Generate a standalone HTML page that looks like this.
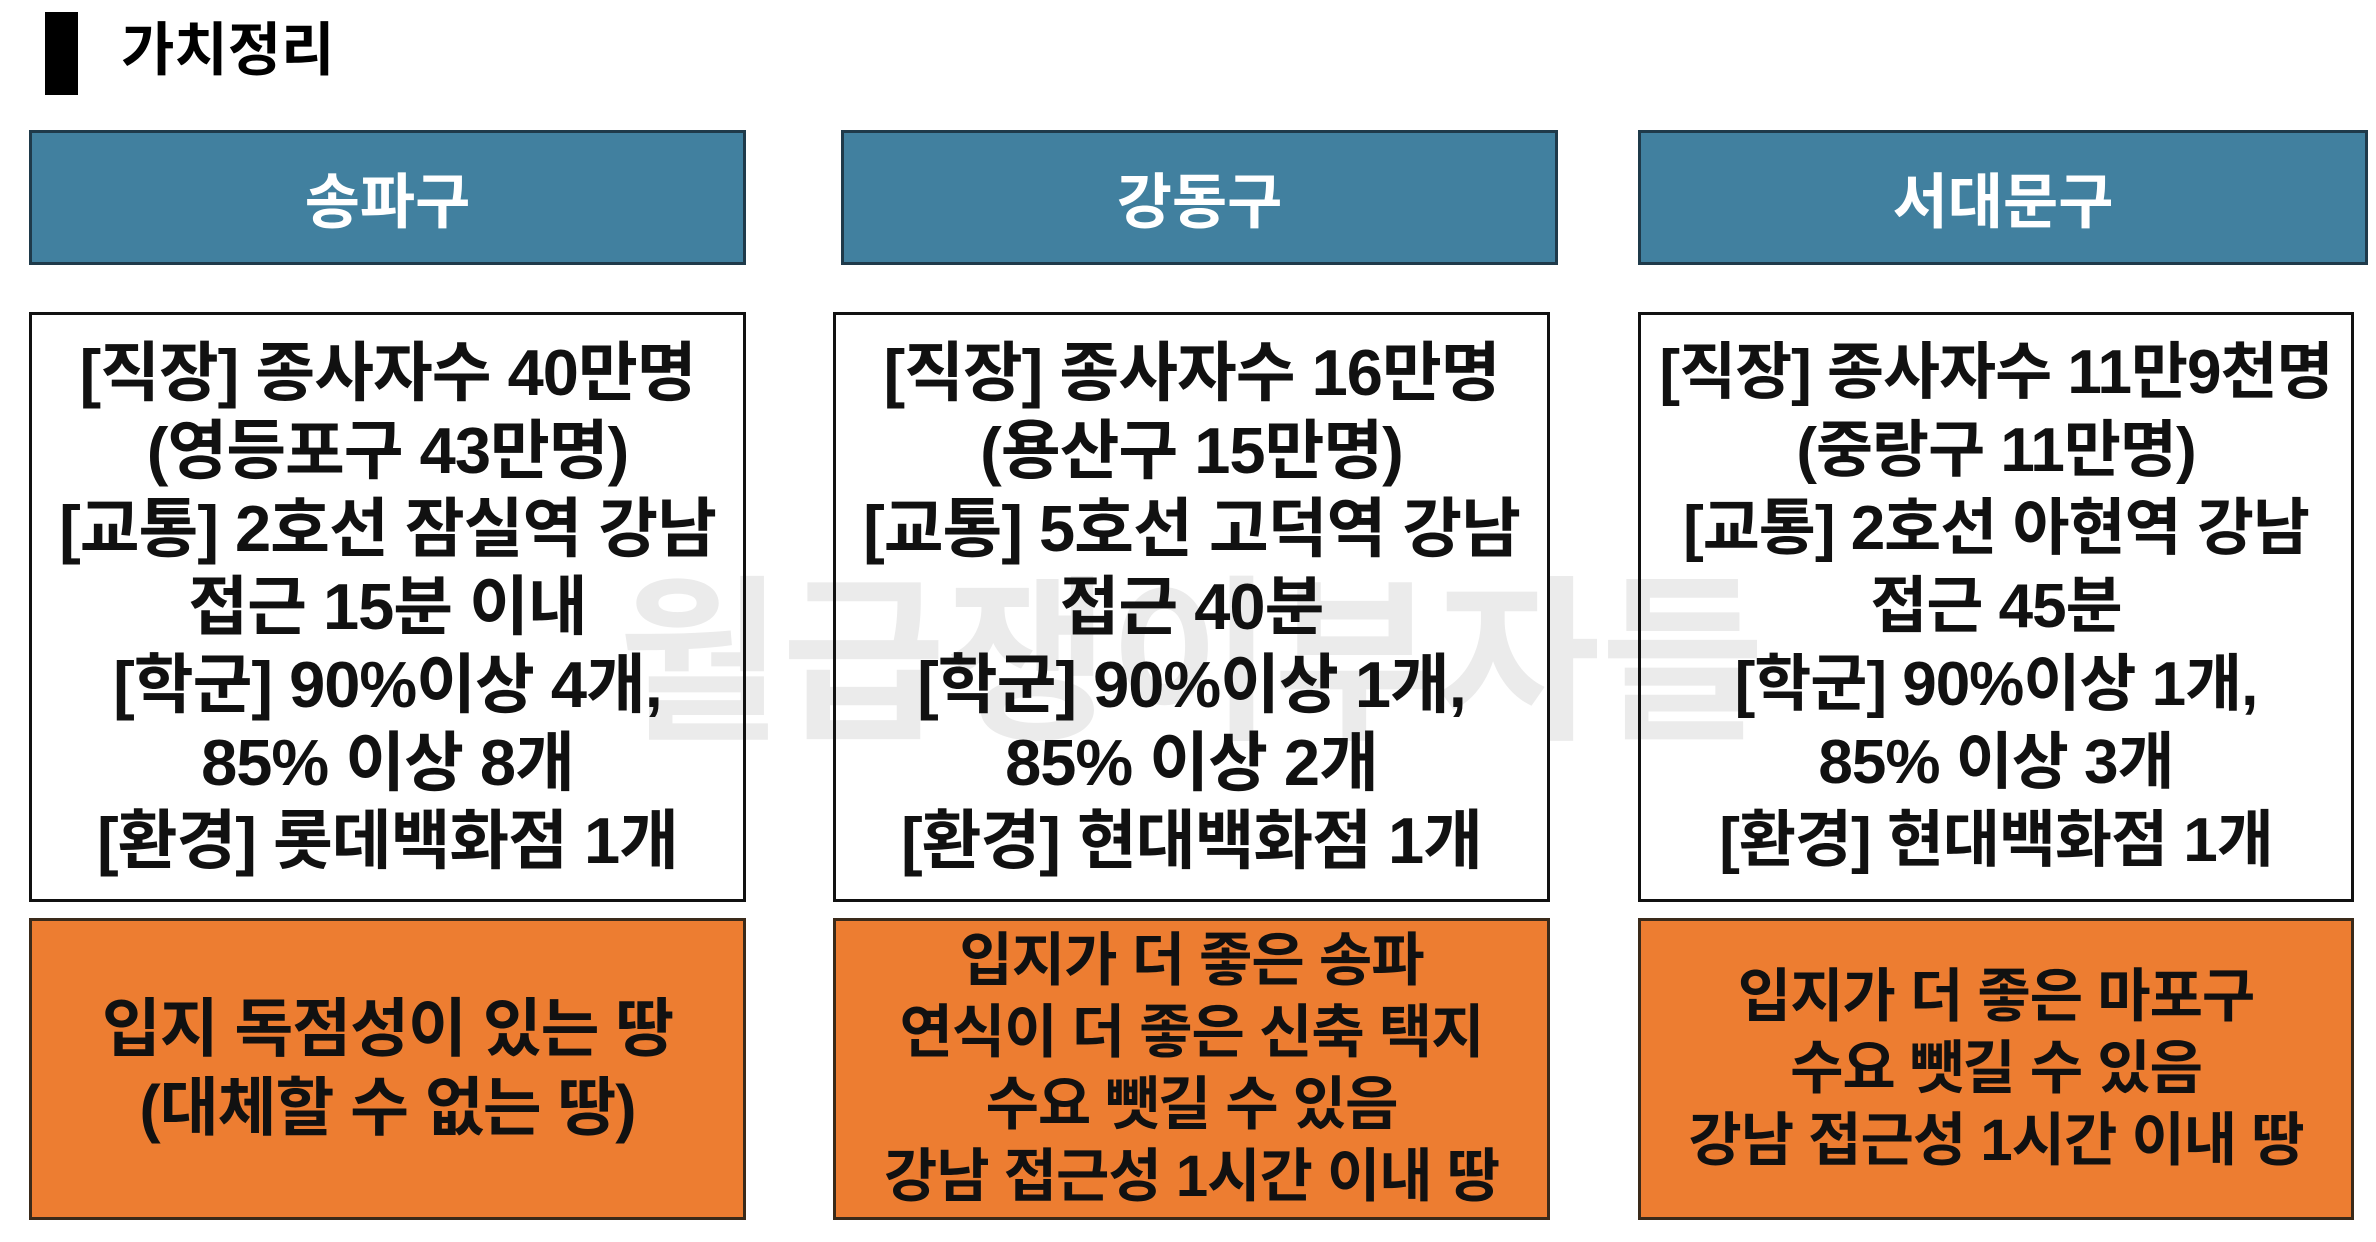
<!DOCTYPE html>
<html><head><meta charset="utf-8">
<style>
html,body{margin:0;padding:0;background:#fff;}
body{width:2376px;height:1242px;position:relative;overflow:hidden;font-family:"Liberation Sans","Noto Sans CJK KR",sans-serif;}
.abs{position:absolute;box-sizing:border-box;}
.hdr{background:#41809f;border:3px solid #1f3a4a;color:#fff;font-weight:bold;font-size:60px;display:flex;align-items:center;justify-content:center;}
.wbox{border:3px solid #111;background:transparent;display:flex;flex-direction:column;align-items:center;justify-content:center;font-weight:bold;font-size:62px;line-height:78px;color:#111;text-align:center;white-space:nowrap;letter-spacing:-1px;}
.obox{background:#ed7d31;border:3px solid #3a2a1a;display:flex;flex-direction:column;align-items:center;justify-content:center;font-weight:bold;font-size:58px;color:#111;text-align:center;white-space:nowrap;letter-spacing:-1px;}
.wm{font-size:178px;font-weight:bold;color:#ebebeb;white-space:nowrap;}
</style></head><body>
<div class="abs wm" style="left:618px;top:520px;">월급쟁이부자들</div>
<div class="abs" style="left:45px;top:12px;width:33px;height:83px;background:#000;"></div>
<div class="abs" style="left:121px;top:16px;font-size:58px;font-weight:bold;line-height:70px;">가치정리</div>

<div class="abs hdr" style="left:29px;top:130px;width:717px;height:135px;">송파구</div>
<div class="abs hdr" style="left:841px;top:130px;width:717px;height:135px;">강동구</div>
<div class="abs hdr" style="left:1638px;top:130px;width:730px;height:135px;">서대문구</div>

<div class="abs wbox" style="left:29px;top:312px;width:717px;height:590px;font-size:65px;">
<div>[직장] 종사자수 40만명</div><div>(영등포구 43만명)</div><div>[교통] 2호선 잠실역 강남</div><div>접근 15분 이내</div><div>[학군] 90%이상 4개,</div><div>85% 이상 8개</div><div>[환경] 롯데백화점 1개</div></div>
<div class="abs wbox" style="left:833px;top:312px;width:717px;height:590px;font-size:65px;">
<div>[직장] 종사자수 16만명</div><div>(용산구 15만명)</div><div>[교통] 5호선 고덕역 강남</div><div>접근 40분</div><div>[학군] 90%이상 1개,</div><div>85% 이상 2개</div><div>[환경] 현대백화점 1개</div></div>
<div class="abs wbox" style="left:1638px;top:312px;width:716px;height:590px;">
<div>[직장] 종사자수 11만9천명</div><div>(중랑구 11만명)</div><div>[교통] 2호선 아현역 강남</div><div>접근 45분</div><div>[학군] 90%이상 1개,</div><div>85% 이상 3개</div><div>[환경] 현대백화점 1개</div></div>

<div class="abs obox" style="left:29px;top:918px;width:717px;height:302px;line-height:79px;font-size:64px;">
<div>입지 독점성이 있는 땅</div><div>(대체할 수 없는 땅)</div></div>
<div class="abs obox" style="left:833px;top:918px;width:717px;height:302px;line-height:72px;">
<div>입지가 더 좋은 송파</div><div>연식이 더 좋은 신축 택지</div><div>수요 뺏길 수 있음</div><div>강남 접근성 1시간 이내 땅</div></div>
<div class="abs obox" style="left:1638px;top:918px;width:716px;height:302px;line-height:72px;">
<div>입지가 더 좋은 마포구</div><div>수요 뺏길 수 있음</div><div>강남 접근성 1시간 이내 땅</div></div>
</body></html>
